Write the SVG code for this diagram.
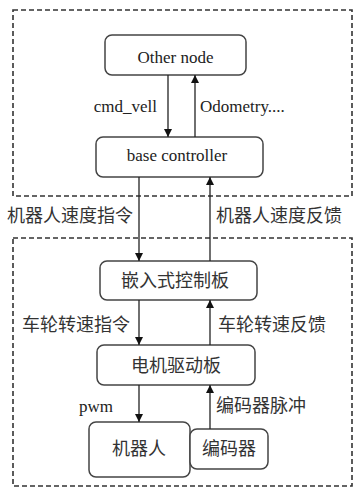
<svg xmlns="http://www.w3.org/2000/svg" width="353" height="488" viewBox="0 0 353 488">
<defs>
<marker id="ah" markerWidth="8" markerHeight="8" refX="8" refY="4" orient="auto" markerUnits="userSpaceOnUse">
<path d="M0,0 L8,4 L0,8 Z" fill="#111"/>
</marker>
<style>
.frame{fill:none;stroke:#333;stroke-width:1.6;stroke-dasharray:5,3}
.box{fill:#fff;stroke:#444;stroke-width:1.5}
.conn{stroke:#222;stroke-width:1.3;fill:none;marker-end:url(#ah)}
.en{font-family:"Liberation Serif","Times New Roman",serif;font-size:17px;fill:#222}
.zh{font-family:"Noto Sans CJK SC","Noto Sans",sans-serif;font-size:18px;fill:#333}
</style>
</defs>
<rect width="353" height="488" fill="#fff"/>
<g id="frames">
<rect class="frame" x="13" y="10" width="339" height="186"/>
<rect class="frame" x="13" y="238" width="339" height="248"/>
</g>
<g id="other-node"><rect class="box" x="105" y="35" width="141" height="40" rx="7"/><text class="en" x="175.5" y="63" text-anchor="middle" font-size="18">Other node</text></g>
<g id="base-controller"><rect class="box" x="96" y="137" width="167" height="40" rx="7"/><text class="en" x="177" y="161" text-anchor="middle">base controller</text></g>
<g id="embedded"><rect class="box" x="100" y="261" width="157" height="39" rx="7"/><text class="zh" x="175" y="287" text-anchor="middle">嵌入式控制板</text></g>
<g id="motor-driver"><rect class="box" x="97" y="345" width="158" height="40" rx="7"/><text class="zh" x="176" y="372" text-anchor="middle">电机驱动板</text></g>
<g id="robot"><rect class="box" x="89" y="422" width="101" height="55" rx="7"/><text class="zh" x="139" y="455" text-anchor="middle">机器人</text></g>
<g id="encoder"><rect class="box" x="190" y="429" width="78" height="40" rx="7"/><text class="zh" x="229" y="455" text-anchor="middle">编码器</text></g>
<g id="connectors">
<line class="conn" x1="168" y1="75" x2="168" y2="137"/>
<line class="conn" x1="195" y1="137" x2="195" y2="75"/>
<line class="conn" x1="139" y1="177" x2="139" y2="261"/>
<line class="conn" x1="210" y1="261" x2="210" y2="177"/>
<line class="conn" x1="139" y1="300" x2="139" y2="345"/>
<line class="conn" x1="210" y1="345" x2="210" y2="300"/>
<line class="conn" x1="139" y1="385" x2="139" y2="422"/>
<line class="conn" x1="210" y1="429" x2="210" y2="385"/>
</g>
<g id="labels">
<text class="en" x="157" y="112" text-anchor="end">cmd_vell</text>
<text class="en" x="200" y="112">Odometry....</text>
<text class="zh" x="7" y="222">机器人速度指令</text>
<text class="zh" x="216" y="222">机器人速度反馈</text>
<text class="zh" x="22" y="331">车轮转速指令</text>
<text class="zh" x="218" y="331">车轮转速反馈</text>
<text class="en" x="79" y="412">pwm</text>
<text class="zh" x="216" y="412">编码器脉冲</text>
</g>
</svg>
